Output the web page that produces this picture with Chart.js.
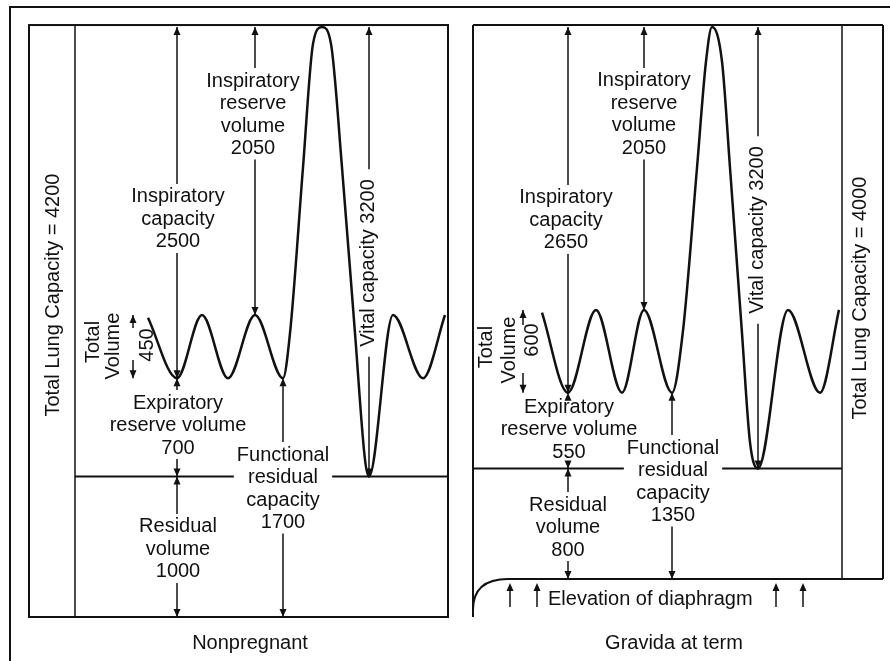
<!DOCTYPE html>
<html>
<head>
<meta charset="utf-8">
<title>Lung volumes</title>
<script src="https://cdn.jsdelivr.net/npm/chart.js@4.4.1/dist/chart.umd.min.js"></script>
<style>
  html, body { margin: 0; padding: 0; background: #fff; }
  #wrap { position: relative; width: 890px; height: 661px; overflow: hidden; background: #fff; }
  #frame { position: absolute; left: 9px; top: 6px; width: 900px; height: 700px; border-left: 2px solid #111; border-top: 2px solid #111; }
  canvas { position: absolute; top: 0; }
  #left { left: 0; }
  #right { left: 460px; }
</style>
</head>
<body>
<div id="wrap">
  <div id="frame"></div>
  <canvas id="left" width="460" height="661"></canvas>
  <canvas id="right" width="430" height="661"></canvas>
</div>
<script>
// spirometer trace (time in arbitrary units, volume in ml)
var npTime   = [73, 102, 127, 153, 180, 208, 215, 228, 238, 247, 256, 267, 280, 290, 294, 318, 348, 370];
var npVolume = [2130, 1700, 2150, 1700, 2150, 1700, 2020, 3200, 4080, 4200, 4080, 3200, 2020, 1120, 1000, 2150, 1700, 2150];
var gtTime   = [69, 95, 123, 149, 171, 199, 210, 224, 233, 239, 249, 257, 269, 277, 285, 315, 347, 366];
var gtVolume = [1930, 1350, 1950, 1350, 1950, 1350, 1800, 2980, 3750, 4000, 3750, 2980, 1780, 990, 800, 1950, 1350, 1950];

// TLC, IC, IRV, VC, TV, ERV, RV, FRC (ml)
var npValues = [4200, 2500, 2050, 3200, 450, 700, 1000, 1700];
var gtValues = [4000, 2650, 2050, 3200, 600, 550, 800, 1350];
var panelTitles = ['Nonpregnant', 'Gravida at term'];

var FONT = '20px "Liberation Sans", Arial, Helvetica, sans-serif';
var INK = '#111';

function arrowHead(ctx, x, y, dir) {
  // dir -1 = pointing up, 1 = pointing down, tip at (x, y)
  ctx.beginPath();
  ctx.moveTo(x, y);
  ctx.lineTo(x - 3.5, y - dir * 8);
  ctx.lineTo(x + 3.5, y - dir * 8);
  ctx.closePath();
  ctx.fill();
}

function seg(ctx, x1, y1, x2, y2) {
  ctx.beginPath();
  ctx.moveTo(x1, y1);
  ctx.lineTo(x2, y2);
  ctx.stroke();
}

function textBlock(ctx, x, y0, lines) {
  var w = 0;
  lines.forEach(function (s, i) {
    ctx.fillText(s, x, y0 + i * 22.5);
    w = Math.max(w, ctx.measureText(s).width);
  });
  return { top: y0 - 13, bottom: y0 + (lines.length - 1) * 22.5 + 11, w: w };
}

function rotText(ctx, x, y, s) {
  ctx.save();
  ctx.translate(x, y);
  ctx.rotate(-Math.PI / 2);
  ctx.fillText(s, 0, 0);
  var w = ctx.measureText(s).width;
  ctx.restore();
  return { top: y - w / 2 - 10, bottom: y + w / 2 + 10 };
}

function lungPlugin(vals, time, lay) {
  return {
    id: 'lung',
    afterDatasetsDraw: function (chart) {
      var ctx = chart.ctx, xs = chart.scales.x, ys = chart.scales.y;
      var X = function (t) { return xs.getPixelForValue(t); };
      var Y = function (v) { return ys.getPixelForValue(v); };
      var tlc = vals[0], ic = vals[1], irv = vals[2], vc = vals[3], tv = vals[4], erv = vals[5], rv = vals[6], frc = vals[7];

      ctx.save();
      ctx.strokeStyle = INK;
      ctx.fillStyle = INK;
      ctx.font = FONT;
      ctx.textAlign = 'center';
      ctx.textBaseline = 'middle';
      ctx.lineCap = 'butt';

      // frame
      ctx.lineWidth = 2;
      var top = Y(lay.boxTop);
      if (!lay.diaphragm) {
        ctx.strokeRect(X(lay.boxLeft), top, X(lay.tMax) - X(lay.boxLeft), Y(0) - top);
        ctx.lineWidth = 1.5;
        seg(ctx, X(0), top, X(0), Y(0));
      } else {
        seg(ctx, X(0), top, X(0), Y(lay.boxBottom));
        seg(ctx, X(0), top, X(lay.boxRight), top);
        seg(ctx, X(lay.boxRight), top, X(lay.boxRight), Y(0));
        ctx.beginPath();
        ctx.moveTo(X(lay.boxRight), Y(0));
        ctx.lineTo(X(lay.curveStart), Y(0));
        ctx.quadraticCurveTo(X(0), Y(0), X(0), Y(lay.curveEnd));
        ctx.stroke();
        ctx.lineWidth = 1.5;
        seg(ctx, X(lay.tMax), top, X(lay.tMax), Y(0));
      }

      // vertical measurements
      ctx.lineWidth = 1.5;
      function measure(t, vTop, vBot, gap) {
        var x = X(t), y1 = Y(vTop), y2 = Y(vBot);
        if (gap) {
          if (gap.top > y1) seg(ctx, x, y1, x, gap.top);
          if (gap.bottom < y2) seg(ctx, x, gap.bottom, x, y2);
        } else {
          seg(ctx, x, y1, x, y2);
        }
        arrowHead(ctx, x, y1, -1);
        arrowHead(ctx, x, y2, 1);
      }
      var L = lay.labels;
      var g;
      g = textBlock(ctx, X(L.ic[0]), Y(L.ic[1]), ['Inspiratory', 'capacity', String(ic)]);
      measure(time[1], frc + ic, frc, g);
      g = textBlock(ctx, X(L.irv[0]), Y(L.irv[1]), ['Inspiratory', 'reserve', 'volume', String(irv)]);
      measure(time[4], tlc, tlc - irv, g);
      g = textBlock(ctx, X(L.erv[0]), Y(L.erv[1]), ['Expiratory', 'reserve volume', String(erv)]);
      measure(time[1], rv + erv, rv, g);
      g = textBlock(ctx, X(L.rv[0]), Y(L.rv[1]), ['Residual', 'volume', String(rv)]);
      measure(time[1], rv, 0, g);
      var fg = textBlock(ctx, X(L.frc[0]), Y(L.frc[1]), ['Functional', 'residual', 'capacity', String(frc)]);
      measure(time[5], frc, 0, fg);
      g = rotText(ctx, X(L.vc[0]), Y(L.vc[1]), 'Vital capacity ' + vc);
      measure(time[14], rv + vc, rv, g);

      // residual volume line, broken by the FRC label
      ctx.lineWidth = 2;
      var fx = X(L.frc[0]);
      seg(ctx, X(0), Y(rv), fx - fg.w / 2 - 3, Y(rv));
      seg(ctx, fx + fg.w / 2 + 3, Y(rv), X(lay.tMax), Y(rv));

      // tidal volume
      ctx.lineWidth = 1.5;
      var tx = X(lay.tidal[0]);
      seg(ctx, tx, Y(lay.tidal[1]), tx, Y(frc + tv));
      arrowHead(ctx, tx, Y(frc + tv), -1);
      seg(ctx, tx, Y(lay.tidal[2]), tx, Y(frc));
      arrowHead(ctx, tx, Y(frc), 1);
      rotText(ctx, X(L.tvText[0][0]), Y(L.tvText[0][1]), 'Total');
      rotText(ctx, X(L.tvText[1][0]), Y(L.tvText[1][1]), 'Volume');
      rotText(ctx, X(L.tvText[2][0]), Y(L.tvText[2][1]), String(tv));

      // total lung capacity
      rotText(ctx, X(L.tlc[0]), Y(L.tlc[1]), 'Total Lung Capacity = ' + tlc);

      // diaphragm arrows
      if (lay.diaphragm) {
        lay.diaphragm.forEach(function (t) {
          seg(ctx, X(t), Y(lay.arrowFrom), X(t), Y(lay.arrowTo) + 6);
          arrowHead(ctx, X(t), Y(lay.arrowTo), -1);
        });
        ctx.textAlign = 'left';
        ctx.fillText('Elevation of diaphragm', X(L.elev[0]), Y(L.elev[1]));
        ctx.textAlign = 'center';
      }

      ctx.fillText(lay.title, X(L.title[0]), Y(L.title[1]));
      ctx.restore();
    }
  };
}

function makeChart(id, time, vol, vals, lay, pad) {
  var pts = time.map(function (t, i) { return { x: t, y: vol[i] }; });
  return new Chart(document.getElementById(id), {
    type: 'line',
    data: {
      datasets: [{
        data: pts,
        borderColor: INK,
        borderWidth: 2.5,
        pointRadius: 0,
        fill: false,
        cubicInterpolationMode: 'monotone',
        clip: false
      }]
    },
    options: {
      responsive: false,
      animation: false,
      devicePixelRatio: 1,
      layout: { padding: pad },
      plugins: { legend: { display: false }, tooltip: { enabled: false } },
      scales: {
        x: { type: 'linear', display: false, min: 0, max: lay.tMax },
        y: { type: 'linear', display: false, min: 0, max: vals[0] }
      }
    },
    plugins: [lungPlugin(vals, time, lay)]
  });
}

makeChart('left', npTime, npVolume, npValues, {
  title: panelTitles[0],
  tMax: 373, boxTop: 4214, boxLeft: -46,
  tidal: [58, 2057, 1829],
  labels: {
    ic: [103, 2990], irv: [178, 3815], erv: [103, 1523], rv: [103, 641],
    frc: [208, 1153], vc: [293, 2520], tlc: [-22, 2292],
    tvText: [[18, 1958], [38, 1929], [72, 1936]],
    title: [175, -185]
  }
}, { left: 75, right: 12, top: 27, bottom: 44 });

makeChart('right', gtTime, gtVolume, gtValues, {
  title: panelTitles[1],
  tMax: 369, boxTop: 4014, boxRight: 410, boxBottom: -275,
  curveStart: 35, curveEnd: -225,
  diaphragm: [37, 64, 303, 330], arrowFrom: -203, arrowTo: -29,
  tidal: [50, 1841, 1493],
  labels: {
    ic: [93, 2761], irv: [171, 3609], erv: [96, 1246], rv: [95, 536],
    frc: [200, 949], vc: [284, 2529], tlc: [387, 2036],
    tvText: [[13, 1681], [36, 1659], [59, 1732]],
    elev: [75, -145],
    title: [201, -464]
  }
}, { left: 13, right: 48, top: 27, bottom: 82 });
</script>
</body>
</html>
